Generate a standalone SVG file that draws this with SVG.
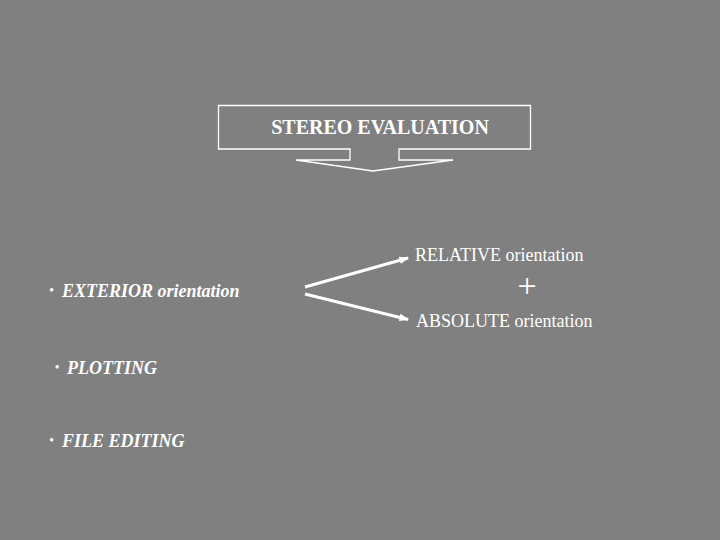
<svg xmlns="http://www.w3.org/2000/svg" width="720" height="540" viewBox="0 0 720 540">
<defs>
<style>
.t{font-family:"Liberation Serif","Times New Roman",serif;fill:#fff;}
.r{font-size:18px;}
.bi{font-size:18px;font-weight:bold;font-style:italic;}
.ln{stroke:#fff;fill:none;}
</style>
<marker id="ah" viewBox="0 0 10 8" refX="9" refY="4" markerWidth="3.2" markerHeight="2.6" orient="auto" markerUnits="strokeWidth">
<path d="M0,0 L10,4 L0,8 Z" fill="#fff"/>
</marker>
</defs>
<rect width="720" height="540" fill="#808080"/>
<g id="title">
<path class="ln" stroke-width="1.3" d="M350,149 H218.5 V105.5 H530.5 V149 H399 V160 H453 L373,171 L296,160 H350 Z"/>
<text class="t" x="380" y="134" font-size="20" font-weight="bold" text-anchor="middle">STEREO EVALUATION</text>
</g>
<g id="exterior">
<text class="t bi" x="49.6" y="297"><tspan font-size="12" font-style="normal" dy="-3">•</tspan><tspan x="62" dy="3">EXTERIOR orientation</tspan></text>
</g>
<g id="plotting">
<text class="t bi" x="55" y="374"><tspan font-size="12" font-style="normal" dy="-3">•</tspan><tspan x="67" dy="3">PLOTTING</tspan></text>
</g>
<g id="fileediting">
<text class="t bi" x="49.6" y="447"><tspan font-size="12" font-style="normal" dy="-3">•</tspan><tspan x="62" dy="3">FILE EDITING</tspan></text>
</g>
<g id="relative">
<text class="t r" x="415" y="261">RELATIVE orientation</text>
</g>
<g id="plus">
<text class="t" x="527" y="297" font-size="34" text-anchor="middle">+</text>
</g>
<g id="absolute">
<text class="t r" x="416" y="327">ABSOLUTE orientation</text>
</g>
<g id="connectors">
<line class="ln" stroke-width="3" x1="305" y1="287" x2="408" y2="258" marker-end="url(#ah)"/>
<line class="ln" stroke-width="3" x1="305" y1="294" x2="408" y2="319.5" marker-end="url(#ah)"/>
</g>
</svg>
